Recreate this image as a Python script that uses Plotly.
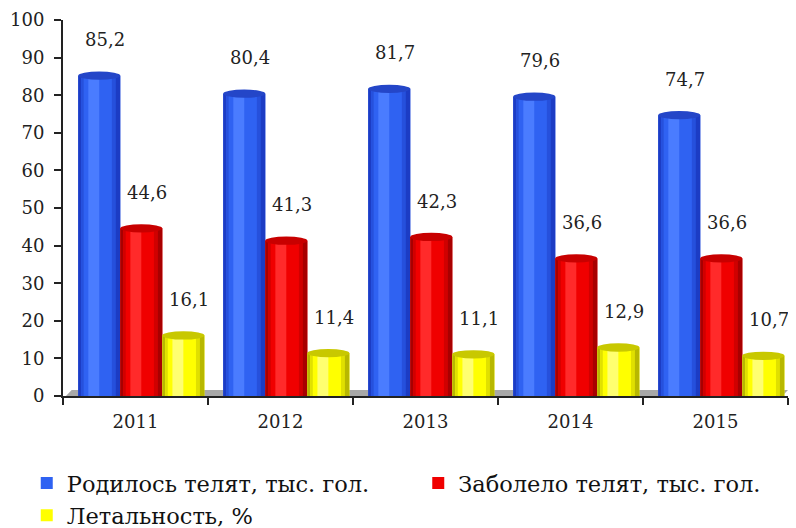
import plotly.graph_objects as go

years = ["2011", "2012", "2013", "2014", "2015"]
born = [85.2, 80.4, 81.7, 79.6, 74.7]
sick = [44.6, 41.3, 42.3, 36.6, 36.6]
lethality = [16.1, 11.4, 11.1, 12.9, 10.7]

series = [
    ("Родилось телят, тыс. гол.", born, "legend",
     dict(mid="#2f62f2", edge="#1c3cc4", edge2="#2650dc", light="#4a7cff",
          top="#2446c8")),
    ("Заболело телят, тыс. гол.", sick, "legend2",
     dict(mid="#f00000", edge="#a80000", edge2="#d00000", light="#ff2a2a",
          top="#c80000")),
    ("Летальность, %", lethality, "legend",
     dict(mid="#ffff00", edge="#b8b800", edge2="#e0e000", light="#ffff70",
          top="#c8c800")),
]

SERIF = "DejaVu Serif"

idx = list(range(len(years)))
bar_w = 0.29
group_start = -0.395
label_font = dict(family=SERIF, size=18, color="#222222")

fig = go.Figure()
shapes = []

for k, (name, vals, leg, col) in enumerate(series):
    off = group_start + k * bar_w
    # cylinder body: base colour, darker edges, lighter highlight
    fig.add_trace(go.Bar(x=idx, y=vals, width=bar_w, offset=off, name=name,
                         legend=leg,
                         marker=dict(color=col["mid"], line_width=0),
                         hoverinfo="skip"))
    stripes = [
        (0.0, 0.07, col["edge"]),
        (0.07, 0.06, col["edge2"]),
        (0.80, 0.09, col["edge2"]),
        (0.89, 0.11, col["edge"]),
        (0.24, 0.26, col["light"]),
    ]
    for s0, sw, c in stripes:
        fig.add_trace(go.Bar(x=idx, y=vals, width=bar_w * sw,
                             offset=off + bar_w * s0, showlegend=False,
                             marker=dict(color=c, line_width=0),
                             hoverinfo="skip"))
    # elliptical tops
    for i, v in zip(idx, vals):
        shapes.append(dict(type="circle", xref="x", yref="y",
                           x0=i + off, x1=i + off + bar_w,
                           y0=v - 1.1, y1=v + 1.1,
                           fillcolor=col["top"], line=dict(width=0),
                           layer="above"))
    # value labels
    fig.add_trace(go.Scatter(
        x=[i + off + bar_w / 2 + 0.04 for i in idx],
        y=[v + 9 for v in vals],
        mode="text",
        text=[f"{v:.1f}".replace(".", ",") for v in vals],
        textfont=label_font,
        showlegend=False, hoverinfo="skip"))

# grey floor under the cylinders
shapes.insert(0, dict(type="path", xref="x", yref="y",
                      path="M -0.48 0 L -0.44 1.6 L 4.5 1.6 L 4.46 0 Z",
                      fillcolor="#a8a8a8", line=dict(width=0), layer="below"))

legend_style = dict(orientation="v", yanchor="top", xanchor="left",
                    font=dict(family=SERIF, size=22.5, color="#111111"),
                    itemwidth=30, tracegroupgap=0, traceorder="normal",
                    bgcolor="rgba(0,0,0,0)")

fig.update_layout(
    width=796, height=528,
    margin=dict(l=63, r=8, t=20, b=132, autoexpand=False),
    paper_bgcolor="white", plot_bgcolor="white",
    barmode="overlay",
    shapes=shapes,
    font=dict(family=SERIF, size=18, color="#222222"),
    showlegend=True,
    legend=dict(x=-0.05, y=-0.175, **legend_style),
    legend2=dict(x=0.49, y=-0.175, **legend_style),
    xaxis=dict(range=[-0.5, 4.5], tickmode="array", tickvals=idx,
               ticktext=years, ticks="", showgrid=False, zeroline=False,
               showline=True, linecolor="#222222", linewidth=2,
               ticklabelstandoff=8,
               tickfont=dict(family=SERIF, size=18, color="#222222"),
               minor=dict(tickmode="array",
                          tickvals=[i - 0.5 for i in idx] + [4.5],
                          ticks="outside", ticklen=7, tickcolor="#222222",
                          tickwidth=1.5, showgrid=False)),
    yaxis=dict(range=[0, 100], tickmode="linear", tick0=0, dtick=10,
               ticks="outside", ticklen=7, tickcolor="#222222", tickwidth=1.5,
               showgrid=False, zeroline=False, showline=True,
               linecolor="#222222", linewidth=2, ticklabelstandoff=6,
               tickfont=dict(family=SERIF, size=18, color="#222222")),
)

fig.write_html("out.html")
